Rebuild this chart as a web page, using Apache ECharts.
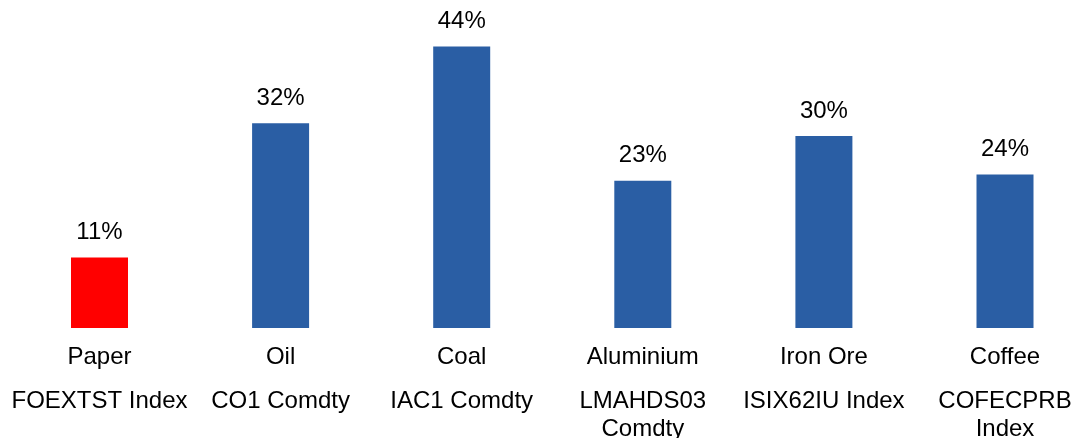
<!DOCTYPE html>
<html>
<head>
<meta charset="utf-8">
<script src="https://cdn.jsdelivr.net/npm/echarts@6/dist/echarts.min.js"></script>
<style>
  html, body { margin: 0; padding: 0; background: #ffffff; }
  #chart { width: 1088px; height: 438px; }
</style>
</head>
<body>
<div id="chart"></div>
<script>
// Commodity names, their Bloomberg tickers and the percentage per commodity
const names = ['Paper', 'Oil', 'Coal', 'Aluminium', 'Iron Ore', 'Coffee'];
const tickers = ['FOEXTST Index', 'CO1 Comdty', 'IAC1 Comdty', 'LMAHDS03\nComdty', 'ISIX62IU Index', 'COFECPRB\nIndex'];
const values = [11, 32, 44, 23, 30, 24];
const barColors = ['#FF0000', '#2A5EA4', '#2A5EA4', '#2A5EA4', '#2A5EA4', '#2A5EA4'];

const FONT = '"Liberation Sans", Arial, Helvetica, sans-serif';
const FS = 24;

const chart = echarts.init(document.getElementById('chart'), null, { renderer: 'canvas' });

chart.setOption({
  animation: false,
  backgroundColor: '#ffffff',
  // categories sit on the ticks; grid spans first to last bar centre
  grid: {
    left: 99.5, top: 8, width: 905.5, height: 320,
    containLabel: false,
    outerBoundsMode: 'none'
  },
  xAxis: {
    type: 'category',
    data: names,
    boundaryGap: false,
    axisLine: { show: false },
    axisTick: { show: false },
    axisLabel: {
      interval: 0,
      margin: 15,
      formatter: function (value, idx) {
        const tick = tickers[idx].split('\n').map(function (s) { return '{t|' + s + '}'; }).join('\n');
        return '{n|' + value + '}\n{g| }\n' + tick;
      },
      rich: {
        n: { fontFamily: FONT, fontSize: FS, color: '#000000', lineHeight: 28 },
        g: { fontFamily: FONT, fontSize: 4, lineHeight: 16 },
        t: { fontFamily: FONT, fontSize: FS, color: '#000000', lineHeight: 28 }
      }
    }
  },
  yAxis: {
    type: 'value',
    min: 0,
    max: 50,
    show: false,
    splitLine: { show: false }
  },
  series: [{
    type: 'bar',
    barWidth: 57,
    data: values.map(function (v, i) {
      return { value: v, itemStyle: { color: barColors[i] } };
    }),
    label: {
      show: true,
      position: 'top',
      distance: 13,
      fontFamily: FONT,
      fontSize: FS,
      color: '#000000',
      formatter: function (p) { return p.value + '%'; }
    }
  }]
});
</script>
</body>
</html>
